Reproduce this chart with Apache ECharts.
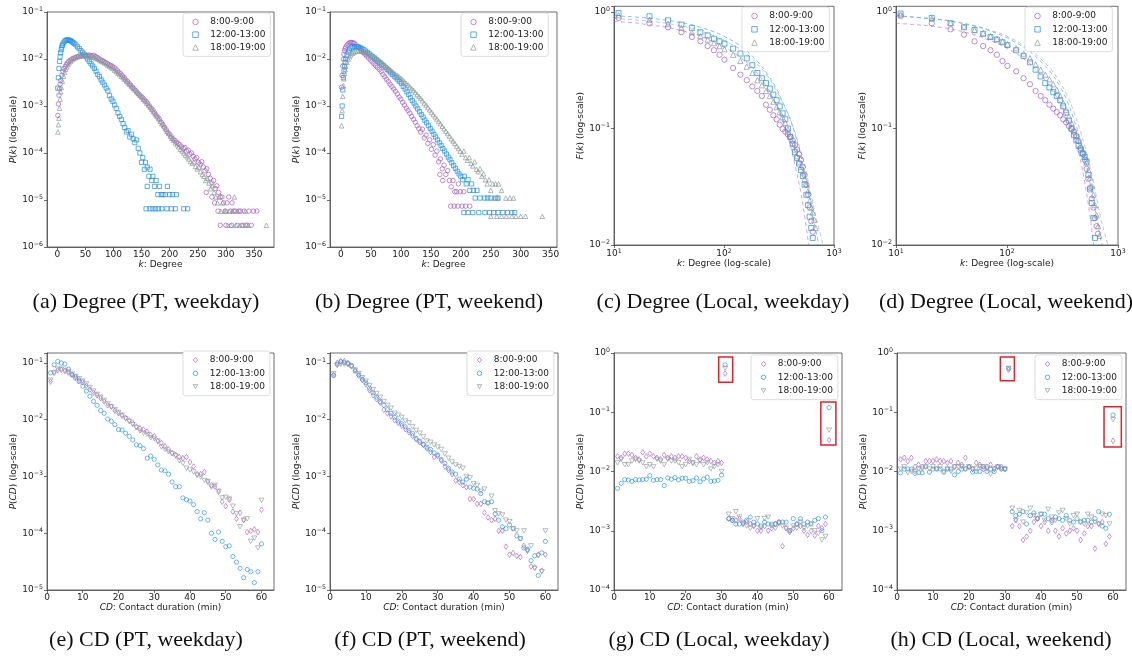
<!DOCTYPE html>
<html><head><meta charset="utf-8">
<script src="https://cdn.jsdelivr.net/npm/echarts@6/dist/echarts.min.js"></script>
<style>html,body{margin:0;padding:0;background:#fff}#c{width:1132px;height:659px}</style>
</head><body><div id="c"></div><script>
// ---------- DATA ----------
const seriesNames = ['8:00-9:00', '12:00-13:00', '18:00-19:00'];
const captions = ['(a) Degree (PT, weekday)', '(b) Degree (PT, weekend)', '(c) Degree (Local, weekday)', '(d) Degree (Local, weekend)',
  '(e) CD (PT, weekday)', '(f) CD (PT, weekend)', '(g) CD (Local, weekday)', '(h) CD (Local, weekend)'];
const degTicks = [0, 50, 100, 150, 200, 250, 300, 350];
const cdTicks = [0, 10, 20, 30, 40, 50, 60];

// (a) Degree, PT, weekday  [k, P(k)]
const aMorning = [[1,6.3e-4],[2,1.1e-3],[3,1.7e-3],[4,2.3e-3],[5,2.9e-3],[6,3.5e-3],[8,4.5e-3],[10,5.4e-3],[12,6.2e-3],[14,6.9e-3],[16,7.6e-3],[18,8.2e-3],[20,8.8e-3],[23,9.4e-3],[26,1.0e-2],[29,1.04e-2],[32,1.08e-2],[35,1.11e-2],[38,1.14e-2],[41,1.16e-2],[44,1.18e-2],[47,1.19e-2],[50,1.2e-2],[53,1.19e-2],[56,1.21e-2],[59,1.19e-2],[62,1.17e-2],[65,1.2e-2],[68,1.13e-2],[71,1.08e-2],[74,1.02e-2],[77,9.6e-3],[80,9.3e-3],[83,8.8e-3],[86,8.4e-3],[89,8.0e-3],[92,7.6e-3],[95,7.3e-3],[98,7.0e-3],[101,6.6e-3],[104,6.1e-3],[107,5.6e-3],[110,5.2e-3],[113,4.8e-3],[116,4.4e-3],[119,4.0e-3],[122,3.6e-3],[125,3.3e-3],[128,3.0e-3],[131,2.75e-3],[134,2.5e-3],[137,2.3e-3],[140,2.1e-3],[143,1.9e-3],[146,1.75e-3],[149,1.6e-3],[152,1.5e-3],[155,1.35e-3],[158,1.25e-3],[161,1.15e-3],[164,1.0e-3],[167,9.0e-4],[170,8.2e-4],[173,7.2e-4],[176,6.4e-4],[179,5.8e-4],[182,5.2e-4],[185,4.5e-4],[188,4.0e-4],[191,3.5e-4],[194,3.1e-4],[197,2.7e-4],[200,2.5e-4],[203,2.2e-4],[206,2.0e-4],[209,1.85e-4],[212,1.7e-4],[215,1.6e-4],[218,1.5e-4],[221,1.35e-4],[224,1.25e-4],[227,1.3e-4],[230,1.1e-4],[233,1.15e-4],[236,9.5e-5],[239,1.0e-4],[242,8.5e-5],[245,7.5e-5],[248,8.0e-5],[251,6.3e-5],[254,5.8e-5],[257,6.5e-5],[260,5.0e-5],[263,4.2e-5],[266,4.6e-5],[269,3.5e-5],[272,2.9e-5],[275,2.3e-5],[278,2.6e-5],[281,1.75e-5],[284,2.0e-5],[287,1.45e-5],[290,1.16e-5],[265,1.45e-5],[275,1.16e-5],[280,8.7e-6],[286,5.8e-6],[290,2.9e-6],[293,1.16e-5],[296,8.7e-6],[299,5.8e-6],[300,2.9e-6],[302,8.7e-6],[305,1.16e-5],[308,5.8e-6],[310,2.9e-6],[311,8.7e-6],[314,5.8e-6],[317,5.8e-6],[320,2.9e-6],[323,5.8e-6],[326,5.8e-6],[329,2.9e-6],[332,5.8e-6],[335,2.9e-6],[338,2.9e-6],[341,5.8e-6],[345,2.9e-6],[349,5.8e-6],[355,5.8e-6]];
const aNoon = [[1,2.4e-3],[2,4.0e-3],[3,6.3e-3],[4,8.9e-3],[5,1.12e-2],[6,1.35e-2],[7,1.58e-2],[8,1.78e-2],[9,1.95e-2],[10,2.09e-2],[12,2.29e-2],[14,2.45e-2],[16,2.5e-2],[18,2.57e-2],[20,2.52e-2],[22,2.5e-2],[24,2.45e-2],[26,2.34e-2],[28,2.24e-2],[30,2.14e-2],[33,2.0e-2],[36,1.82e-2],[39,1.66e-2],[42,1.51e-2],[45,1.38e-2],[48,1.26e-2],[51,1.12e-2],[54,1.0e-2],[57,8.9e-3],[60,7.9e-3],[63,7.1e-3],[66,6.3e-3],[69,5.5e-3],[72,4.7e-3],[75,4.2e-3],[78,3.6e-3],[81,3.2e-3],[84,2.8e-3],[87,2.4e-3],[90,2.1e-3],[93,1.66e-3],[96,1.41e-3],[99,1.26e-3],[102,1.05e-3],[105,8.9e-4],[108,7.1e-4],[111,6.0e-4],[114,5.2e-4],[117,4.2e-4],[120,3.5e-4],[123,2.8e-4],[126,3.0e-4],[129,2.2e-4],[132,2.5e-4],[135,2.0e-4],[138,1.66e-4],[141,1.9e-4],[144,1.26e-4],[147,1.0e-4],[150,6.3e-5],[152,8.0e-5],[155,4.5e-5],[157,6.3e-5],[160,5.0e-5],[163,3.2e-5],[165,4.5e-5],[168,2.6e-5],[170,3.2e-5],[173,1.95e-5],[176,2.6e-5],[179,1.3e-5],[182,1.95e-5],[185,1.3e-5],[188,1.3e-5],[192,1.3e-5],[196,1.95e-5],[200,1.3e-5],[205,1.3e-5],[212,1.3e-5],[160,1.95e-5],[158,6.5e-6],[165,6.5e-6],[170,6.5e-6],[175,6.5e-6],[180,6.5e-6],[186,6.5e-6],[195,6.5e-6],[203,6.5e-6],[210,6.5e-6],[225,6.5e-6],[232,6.5e-6]];
const aEvening = [[1,2.8e-4],[2,4e-4],[3,5.5e-4],[4,9e-4],[5,1.4e-3],[6,2.0e-3],[7,2.5e-3],[9,3.4e-3],[11,4.3e-3],[13,5.2e-3],[15,6.0e-3],[17,6.8e-3],[19,7.6e-3],[21,8.3e-3],[24,9.0e-3],[27,9.7e-3],[30,1.03e-2],[33,1.08e-2],[36,1.12e-2],[39,1.15e-2],[42,1.17e-2],[45,1.18e-2],[48,1.19e-2],[51,1.2e-2],[54,1.18e-2],[57,1.17e-2],[60,1.15e-2],[63,1.12e-2],[66,1.08e-2],[69,1.04e-2],[72,1.0e-2],[75,9.5e-3],[78,9.1e-3],[81,8.7e-3],[84,8.3e-3],[87,7.9e-3],[90,7.4e-3],[93,7.0e-3],[96,6.6e-3],[99,6.3e-3],[102,5.8e-3],[105,5.4e-3],[108,5.0e-3],[111,4.7e-3],[114,4.3e-3],[117,4.0e-3],[120,3.7e-3],[123,3.4e-3],[126,3.1e-3],[129,2.85e-3],[132,2.6e-3],[135,2.4e-3],[138,2.2e-3],[141,2.0e-3],[144,1.85e-3],[147,1.7e-3],[150,1.55e-3],[153,1.4e-3],[156,1.28e-3],[159,1.15e-3],[162,1.05e-3],[165,9.5e-4],[168,8.5e-4],[171,7.6e-4],[174,6.8e-4],[177,6.1e-4],[180,5.4e-4],[183,4.8e-4],[186,4.2e-4],[189,3.8e-4],[192,3.3e-4],[195,2.9e-4],[198,2.6e-4],[201,2.3e-4],[204,2.05e-4],[207,1.85e-4],[210,1.65e-4],[213,1.5e-4],[216,1.35e-4],[219,1.2e-4],[222,1.1e-4],[225,1.0e-4],[228,9.0e-5],[231,8.3e-5],[234,7.5e-5],[237,6.6e-5],[240,6.0e-5],[243,6.5e-5],[246,5.2e-5],[249,4.6e-5],[252,5.0e-5],[255,4.0e-5],[258,3.5e-5],[261,3.2e-5],[264,2.6e-5],[267,2.9e-5],[270,2.3e-5],[273,1.75e-5],[276,2.0e-5],[279,1.45e-5],[282,1.16e-5],[285,8.7e-6],[288,1.16e-5],[291,5.8e-6],[294,8.7e-6],[297,5.8e-6],[300,5.8e-6],[303,2.9e-6],[306,5.8e-6],[309,2.9e-6],[312,5.8e-6],[315,1.16e-5],[318,2.9e-6],[321,5.8e-6],[325,2.9e-6],[330,2.9e-6],[335,5.8e-6],[340,2.9e-6],[372,2.9e-6]];

// (b) Degree, PT, weekend
const bMorning = [[1,2.5e-3],[2,4.5e-3],[3,7.1e-3],[4,1.0e-2],[5,1.26e-2],[6,1.51e-2],[7,1.66e-2],[8,1.78e-2],[10,1.95e-2],[12,2.1e-2],[14,2.2e-2],[16,2.25e-2],[18,2.25e-2],[20,2.2e-2],[22,2.16e-2],[25,2.0e-2],[28,1.82e-2],[31,1.66e-2],[34,1.51e-2],[37,1.38e-2],[40,1.26e-2],[43,1.15e-2],[46,1.05e-2],[49,9.5e-3],[52,8.7e-3],[55,7.9e-3],[58,7.2e-3],[61,6.6e-3],[64,6.0e-3],[67,5.4e-3],[70,4.7e-3],[73,4.2e-3],[76,3.7e-3],[79,3.3e-3],[82,2.9e-3],[85,2.6e-3],[88,2.3e-3],[91,2.05e-3],[94,1.8e-3],[97,1.55e-3],[100,1.4e-3],[103,1.2e-3],[106,1.05e-3],[109,9.0e-4],[112,8.0e-4],[115,7.0e-4],[118,6.0e-4],[121,5.2e-4],[124,4.5e-4],[127,3.8e-4],[130,3.3e-4],[133,2.8e-4],[136,3.2e-4],[139,2.1e-4],[142,2.4e-4],[145,1.6e-4],[148,1.9e-4],[151,1.2e-4],[154,1.5e-4],[157,9.0e-5],[160,1.1e-4],[163,6.5e-5],[166,7.5e-5],[169,4.6e-5],[172,5.5e-5],[175,3.5e-5],[178,4.2e-5],[181,2.6e-5],[184,1.9e-5],[187,2.6e-5],[190,1.5e-5],[193,1.5e-5],[196,2.2e-5],[199,1.5e-5],[183,7.4e-6],[189,7.4e-6],[195,7.4e-6],[202,7.4e-6],[208,7.4e-6],[215,7.4e-6],[205,1.5e-5],[170,2.6e-5],[165,3.5e-5]];
const bNoon = [[1,6e-4],[2,1.0e-3],[3,2.2e-3],[4,4.0e-3],[5,5.5e-3],[6,7.1e-3],[7,8.5e-3],[8,1.0e-2],[10,1.2e-2],[12,1.4e-2],[14,1.55e-2],[17,1.7e-2],[20,1.78e-2],[23,1.82e-2],[26,1.82e-2],[29,1.8e-2],[32,1.74e-2],[35,1.66e-2],[38,1.58e-2],[41,1.48e-2],[44,1.38e-2],[47,1.29e-2],[50,1.2e-2],[53,1.12e-2],[56,1.05e-2],[59,9.7e-3],[62,9.0e-3],[65,8.4e-3],[68,7.8e-3],[71,7.2e-3],[74,6.6e-3],[77,6.0e-3],[80,5.6e-3],[83,5.1e-3],[86,4.7e-3],[89,4.3e-3],[92,4.0e-3],[95,3.6e-3],[98,3.3e-3],[101,3.0e-3],[104,2.6e-3],[107,2.3e-3],[110,2.0e-3],[113,1.75e-3],[116,1.5e-3],[119,1.3e-3],[122,1.15e-3],[125,1.0e-3],[128,8.7e-4],[131,7.6e-4],[134,6.6e-4],[137,5.8e-4],[140,5.0e-4],[143,4.4e-4],[146,3.8e-4],[149,3.3e-4],[152,2.9e-4],[155,2.5e-4],[158,2.2e-4],[161,1.9e-4],[164,1.65e-4],[167,1.45e-4],[170,1.25e-4],[173,1.1e-4],[176,9.5e-5],[179,8.2e-5],[182,7.2e-5],[185,6.2e-5],[188,5.4e-5],[191,4.7e-5],[194,4.1e-5],[197,3.6e-5],[200,3.2e-5],[203,2.7e-5],[206,3.2e-5],[209,2.2e-5],[212,2.7e-5],[215,1.6e-5],[218,2.2e-5],[221,1.6e-5],[224,1.1e-5],[227,1.6e-5],[232,1.1e-5],[240,1.1e-5],[245,1.1e-5],[250,1.1e-5],[258,1.1e-5],[262,1.1e-5],[205,5.4e-6],[212,5.4e-6],[220,5.4e-6],[230,5.4e-6],[240,5.4e-6],[248,5.4e-6],[255,5.4e-6],[262,5.4e-6],[270,5.4e-6],[278,5.4e-6],[285,5.4e-6],[290,5.4e-6]];
const bEvening = [[1,3.8e-4],[2,8e-4],[3,1.6e-3],[4,2.7e-3],[5,3.8e-3],[6,5.0e-3],[7,6.0e-3],[8,7.0e-3],[10,8.5e-3],[12,1.0e-2],[14,1.12e-2],[16,1.22e-2],[19,1.32e-2],[22,1.4e-2],[25,1.45e-2],[28,1.48e-2],[31,1.5e-2],[34,1.48e-2],[37,1.45e-2],[40,1.4e-2],[43,1.33e-2],[46,1.27e-2],[49,1.2e-2],[52,1.14e-2],[55,1.08e-2],[58,1.02e-2],[61,9.6e-3],[64,9.0e-3],[67,8.4e-3],[70,7.8e-3],[73,7.3e-3],[76,6.8e-3],[79,6.3e-3],[82,5.9e-3],[85,5.5e-3],[88,5.1e-3],[91,4.8e-3],[94,4.5e-3],[97,4.2e-3],[100,3.9e-3],[103,3.6e-3],[106,3.3e-3],[109,3.05e-3],[112,2.8e-3],[115,2.55e-3],[118,2.35e-3],[121,2.15e-3],[124,1.95e-3],[127,1.75e-3],[130,1.6e-3],[133,1.45e-3],[136,1.3e-3],[139,1.15e-3],[142,1.05e-3],[145,9.3e-4],[148,8.3e-4],[151,7.4e-4],[154,6.6e-4],[157,5.9e-4],[160,5.3e-4],[163,4.7e-4],[166,4.2e-4],[169,3.7e-4],[172,3.3e-4],[175,2.9e-4],[178,2.6e-4],[181,2.3e-4],[184,2.0e-4],[187,1.8e-4],[190,1.6e-4],[193,1.4e-4],[196,1.25e-4],[199,1.1e-4],[202,9.5e-5],[205,1.1e-4],[208,8.0e-5],[211,7.0e-5],[214,8.0e-5],[217,6.0e-5],[220,5.3e-5],[223,6.5e-5],[226,4.5e-5],[229,4.0e-5],[232,4.6e-5],[235,3.2e-5],[238,3.6e-5],[241,2.7e-5],[244,2.2e-5],[247,2.7e-5],[250,1.6e-5],[253,2.2e-5],[258,2.2e-5],[263,2.2e-5],[255,1.1e-5],[262,1.1e-5],[268,1.6e-5],[275,1.1e-5],[282,1.1e-5],[288,1.1e-5],[250,4.5e-6],[260,4.5e-6],[268,4.5e-6],[276,4.5e-6],[285,4.5e-6],[292,4.5e-6],[300,4.5e-6],[308,4.5e-6],[336,4.5e-6]];

// (c),(d) Degree, Local: F(k) at k values
const kLocal = [11,21,31,41,51,61,71,81,91,101,121,141,161,181,201,221,241,261,281,301,321,341,361,381,401,421,441,461,481,501,521,541,561,581,601,621,641,661,681];
const cMorning = [0.89,0.80,0.74,0.67,0.61,0.56,0.51,0.47,0.43,0.39,0.33,0.29,0.26,0.23,0.21,0.19,0.16,0.145,0.13,0.12,0.108,0.099,0.094,0.089,0.085,0.079,0.072,0.066,0.060,0.054,0.047,0.040,0.033,0.027,0.021,0.016,0.013];
const cNoon = [0.98,0.92,0.85,0.78,0.73,0.67,0.63,0.59,0.56,0.535,0.485,0.44,0.40,0.35,0.30,0.27,0.245,0.22,0.195,0.175,0.155,0.135,0.12,0.10,0.085,0.074,0.063,0.056,0.050,0.044,0.039,0.033,0.027,0.022,0.0175,0.014,0.0115];
const cEvening = [0.94,0.86,0.79,0.73,0.67,0.62,0.58,0.54,0.51,0.48,0.43,0.38,0.34,0.30,0.26,0.235,0.21,0.19,0.17,0.153,0.138,0.125,0.112,0.098,0.085,0.075,0.066,0.058,0.052,0.047,0.042,0.037,0.033,0.029,0.024,0.021,0.019,0.0165,0.014];
const dMorning = [0.93,0.80,0.71,0.64,0.56,0.51,0.47,0.43,0.38,0.345,0.31,0.27,0.24,0.21,0.19,0.175,0.16,0.148,0.138,0.13,0.12,0.113,0.105,0.099,0.094,0.086,0.078,0.068,0.061,0.054,0.045,0.037,0.031,0.025,0.021,0.017,0.0145,0.0125];
const dNoon = [0.97,0.89,0.80,0.74,0.70,0.65,0.61,0.58,0.55,0.52,0.47,0.42,0.37,0.32,0.28,0.245,0.225,0.205,0.19,0.175,0.155,0.137,0.117,0.10,0.088,0.079,0.071,0.066,0.061,0.057,0.052,0.040,0.030,0.023,0.017,0.0115];
const dEvening = [0.94,0.88,0.81,0.75,0.70,0.66,0.62,0.59,0.56,0.53,0.49,0.44,0.40,0.355,0.32,0.29,0.265,0.24,0.215,0.19,0.165,0.145,0.128,0.112,0.098,0.088,0.079,0.072,0.065,0.058,0.051,0.044,0.038,0.032,0.027,0.022,0.018,0.0145,0.012];
// fitted curves (dashed), read as [k, F]
const cFitMorning = [[10,0.83],[15,0.81],[20,0.78],[30,0.74],[50,0.66],[70,0.59],[100,0.50],[150,0.39],[200,0.30],[250,0.22],[300,0.16],[350,0.11],[400,0.072],[450,0.045],[500,0.028],[550,0.016],[590,0.0098]];
const cFitNoon = [[10,0.93],[20,0.89],[30,0.85],[50,0.78],[70,0.71],[100,0.62],[150,0.49],[200,0.38],[250,0.29],[300,0.22],[350,0.16],[400,0.12],[450,0.085],[500,0.058],[550,0.039],[600,0.026],[650,0.017],[700,0.012],[740,0.0095]];
const cFitEvening = [[10,0.88],[20,0.84],[30,0.80],[50,0.73],[70,0.66],[100,0.57],[150,0.46],[200,0.36],[250,0.28],[300,0.21],[350,0.16],[400,0.12],[450,0.088],[500,0.063],[550,0.045],[600,0.031],[650,0.022],[700,0.016],[750,0.0125],[800,0.0098]];
const dFitMorning = [[10,0.80],[15,0.78],[20,0.76],[30,0.72],[50,0.64],[70,0.57],[100,0.49],[150,0.38],[200,0.29],[250,0.22],[300,0.165],[350,0.12],[400,0.085],[450,0.058],[500,0.035],[550,0.02],[600,0.0105],[610,0.0095]];
const dFitNoon = [[10,0.93],[20,0.88],[30,0.84],[50,0.76],[70,0.69],[100,0.60],[150,0.48],[200,0.38],[250,0.30],[300,0.23],[350,0.17],[400,0.12],[450,0.085],[500,0.057],[550,0.037],[600,0.024],[650,0.016],[700,0.011],[740,0.0092]];
const dFitEvening = [[10,0.93],[20,0.88],[30,0.84],[50,0.77],[70,0.70],[100,0.62],[150,0.50],[200,0.40],[250,0.32],[300,0.25],[350,0.19],[400,0.14],[450,0.10],[500,0.072],[550,0.05],[600,0.035],[650,0.024],[700,0.017],[750,0.013],[800,0.0105],[850,0.0088]];

// (e)-(h) Contact duration: P(CD) for CD = 1..60 min
const eMorning = [0.047,0.067,0.074,0.076,0.072,0.068,0.062,0.057,0.050,0.046,0.040,0.034,0.030,0.027,0.024,0.021,0.018,0.017,0.0144,0.013,0.0118,0.0107,0.0097,0.0087,0.0076,0.0070,0.0067,0.0062,0.0054,0.0051,0.0042,0.0039,0.0034,0.0030,0.0026,0.0024,0.0022,0.0021,0.0022,0.0018,0.0015,0.0011,0.0011,0.0012,0.0008,0.0007,0.00066,0.00054,0.00036,0.0003,0.00039,0.00024,0.00018,0.00023,0.00017,0.000105,0.00011,0.000117,0.000105,0.00026];
const eNoon = [0.067,0.093,0.107,0.100,0.096,0.078,0.062,0.054,0.047,0.039,0.032,0.026,0.021,0.018,0.0146,0.013,0.0103,0.0094,0.0082,0.0067,0.0066,0.0058,0.0051,0.0044,0.0036,0.0035,0.0031,0.0021,0.0023,0.0020,0.0016,0.0013,0.00126,0.0011,0.00080,0.00066,0.00066,0.00042,0.00039,0.00037,0.00032,0.00024,0.00018,0.00023,0.00017,0.000100,0.000078,0.000105,0.000072,0.000058,0.000060,0.000039,0.000031,0.000024,0.0000165,0.000023,0.000021,0.0000135,0.000021,0.000065];
const eEvening = [0.050,0.068,0.078,0.078,0.074,0.070,0.064,0.058,0.053,0.048,0.043,0.037,0.032,0.028,0.025,0.022,0.019,0.017,0.0150,0.0135,0.0120,0.0105,0.0093,0.0082,0.0072,0.0063,0.0058,0.0055,0.0048,0.0046,0.0042,0.0033,0.0030,0.0027,0.0025,0.0023,0.0019,0.0017,0.0014,0.0013,0.0012,0.00105,0.00098,0.00085,0.00082,0.00065,0.00070,0.00055,0.00042,0.00043,0.00040,0.00030,0.00022,0.00013,0.00017,0.00018,0.000072,0.000082,0.000055,0.00038];
const fMorning = [0.062,0.100,0.108,0.108,0.100,0.090,0.075,0.060,0.050,0.042,0.033,0.027,0.023,0.020,0.015,0.013,0.0115,0.0098,0.0088,0.0078,0.0068,0.0060,0.0052,0.0045,0.0040,0.0036,0.0031,0.0027,0.0022,0.0023,0.0019,0.0015,0.0013,0.0011,0.00085,0.00080,0.00070,0.00065,0.00040,0.00040,0.00033,0.00033,0.00023,0.00019,0.00017,0.00018,0.00011,0.00011,0.000058,0.000042,0.000045,0.000040,0.000038,0.000060,0.000050,0.000026,0.000025,0.000042,0.000022,0.000042];
const fNoon = [0.060,0.095,0.105,0.102,0.098,0.088,0.072,0.062,0.052,0.045,0.036,0.030,0.025,0.021,0.018,0.015,0.013,0.011,0.0095,0.0085,0.0075,0.0065,0.0057,0.0047,0.0042,0.0037,0.0033,0.0030,0.0026,0.0024,0.0020,0.0017,0.0014,0.0012,0.0011,0.0009,0.0008,0.0009,0.00065,0.00062,0.00060,0.00050,0.00036,0.00034,0.00036,0.00022,0.00017,0.00013,0.00012,0.00014,0.00012,0.00009,0.00008,0.000055,0.000052,0.000033,0.000040,0.000018,0.000045,0.000072];
const fEvening = [0.065,0.090,0.095,0.095,0.092,0.087,0.075,0.065,0.055,0.048,0.040,0.034,0.029,0.025,0.021,0.018,0.016,0.013,0.012,0.011,0.0095,0.0088,0.0075,0.0065,0.0058,0.0050,0.0042,0.0040,0.0036,0.0033,0.0030,0.0025,0.0021,0.0018,0.0016,0.0015,0.0014,0.0010,0.00095,0.00075,0.00070,0.00055,0.00060,0.00034,0.00045,0.00025,0.00022,0.00021,0.00017,0.00016,0.00012,0.00011,0.00008,0.00011,0.000048,0.000060,0.000024,0.000040,0.000021,0.00011];
const gMorning = [0.018,0.017,0.020,0.020,0.019,0.017,0.016,0.021,0.018,0.020,0.018,0.017,0.016,0.019,0.017,0.018,0.017,0.018,0.018,0.017,0.015,0.014,0.018,0.016,0.017,0.016,0.015,0.014,0.015,0.014,0.45,0.0016,0.0015,0.0015,0.0016,0.0013,0.0014,0.0013,0.0012,0.0010,0.0010,0.0012,0.0010,0.0011,0.0013,0.0014,0.00055,0.0011,0.00095,0.0011,0.0013,0.0012,0.0010,0.00085,0.0010,0.00083,0.0012,0.0011,0.0013,0.034];
const gNoon = [0.0052,0.0063,0.0073,0.0072,0.0068,0.0073,0.0072,0.0073,0.0074,0.0085,0.0071,0.0073,0.0073,0.0058,0.0078,0.0074,0.0079,0.0072,0.0077,0.0077,0.0068,0.0070,0.0078,0.0067,0.0075,0.0080,0.0068,0.0069,0.0071,0.0087,0.63,0.0016,0.0015,0.0013,0.0013,0.0014,0.0015,0.0017,0.0014,0.0013,0.0012,0.0014,0.0013,0.0013,0.0013,0.0014,0.0014,0.0014,0.0010,0.0016,0.0013,0.0016,0.0013,0.0014,0.0013,0.0015,0.0016,0.0010,0.0017,0.12];
const gEvening = [0.014,0.016,0.013,0.013,0.015,0.016,0.015,0.014,0.012,0.013,0.012,0.016,0.015,0.013,0.016,0.015,0.015,0.014,0.012,0.013,0.016,0.014,0.013,0.015,0.013,0.014,0.011,0.012,0.013,0.010,0.55,0.0019,0.0016,0.0021,0.0017,0.0013,0.0012,0.0011,0.0012,0.0016,0.0011,0.0016,0.0017,0.0012,0.0011,0.0013,0.0012,0.0011,0.0010,0.0012,0.0011,0.0014,0.0011,0.0012,0.0013,0.0010,0.0009,0.0007,0.0008,0.050];
const hMorning = [0.016,0.017,0.015,0.017,0.012,0.013,0.012,0.015,0.015,0.015,0.016,0.015,0.015,0.014,0.015,0.012,0.014,0.013,0.017,0.012,0.011,0.014,0.013,0.011,0.012,0.013,0.011,0.012,0.012,0.011,0.52,0.0012,0.0015,0.0012,0.0007,0.0008,0.0010,0.0014,0.0016,0.0012,0.0014,0.0010,0.0014,0.0010,0.0008,0.0011,0.0009,0.0010,0.0011,0.0010,0.0007,0.0009,0.0012,0.0012,0.0005,0.0013,0.0014,0.0006,0.0008,0.033];
const hNoon = [0.0095,0.011,0.011,0.011,0.0093,0.0096,0.0095,0.012,0.0098,0.011,0.011,0.011,0.0097,0.011,0.011,0.0088,0.010,0.011,0.011,0.012,0.0098,0.010,0.010,0.012,0.010,0.011,0.010,0.012,0.011,0.011,0.55,0.0021,0.0018,0.0019,0.0021,0.0013,0.0018,0.0020,0.0016,0.0019,0.0019,0.0016,0.0015,0.0017,0.0016,0.0015,0.0018,0.0015,0.0014,0.0016,0.0014,0.0015,0.0015,0.0014,0.0016,0.0021,0.0012,0.0011,0.0019,0.090];
const hEvening = [0.011,0.012,0.0095,0.010,0.010,0.011,0.011,0.012,0.011,0.012,0.011,0.012,0.010,0.011,0.010,0.012,0.012,0.012,0.011,0.012,0.011,0.011,0.012,0.012,0.011,0.009,0.011,0.012,0.011,0.011,0.55,0.0024,0.0015,0.0022,0.0014,0.0020,0.0024,0.0018,0.0016,0.0019,0.0015,0.0023,0.0017,0.0015,0.0020,0.0022,0.0016,0.0013,0.0018,0.0019,0.0014,0.0013,0.0019,0.0017,0.0014,0.0013,0.0019,0.0018,0.0013,0.075];
// highlighted regions [xFrom, xTo, yFrom, yTo] in data units
const gBoxes = [[29.2, 33.1, 0.32, 0.855], [57.7, 61.9, 0.028, 0.149]];
const hBoxes = [[28.7, 32.6, 0.34, 0.855], [57.5, 62.3, 0.026, 0.124]];

// ---------- STYLE / LAYOUT ----------
const FONT = 'DejaVu Sans';
const FS = 9;
const AX = '#4a4a4a';
const COL = ['#a65fc4', '#1f8fe3', '#8e9999'];
const DOWNTRI = 'path://M0,0L10,0L5,8.66Z';
const grids = [
  {left:47, top:12, width:227, height:235},
  {left:330, top:12, width:227, height:235},
  {left:614, top:6.3, width:220, height:238.7},
  {left:896, top:6.3, width:222, height:238.7},
  {left:47, top:353, width:227, height:237},
  {left:330, top:353, width:228, height:237},
  {left:614, top:353, width:228, height:237},
  {left:897, top:353, width:229, height:237}
];
const capX = [141, 424, 718, 1001, 141, 425, 714, 996];
const legendPos = [[183,13],[461,13],[742,7],[1025,7],[183,351],[467,351],[751,355],[1035,355]];

const SUP = {s:{fontSize:6.3, fontFamily:FONT, color:'#222', padding:[0,0,6,0]}};
function logFmt(v){
  const l = Math.log10(v), e = Math.round(l);
  if (Math.abs(l - e) > 1e-3) return '';
  return '10{s|' + (e < 0 ? '\u2212' + (-e) : e) + '}';
}
const nameStyle = {fontSize:FS, color:'#222', fontFamily:FONT, rich:{i:{fontStyle:'italic', fontSize:FS, color:'#222', fontFamily:FONT}}};

function axisBase(i, type, min, max, name, gap){
  return {gridIndex:i, type, min, max, name, nameLocation:'middle', nameGap:gap, nameTextStyle:nameStyle,
    axisLine:{show:true, onZero:false, lineStyle:{color:AX, width:0.8}},
    axisTick:{show:true, inside:false, length:3, lineStyle:{color:AX, width:0.8}},
    axisLabel:{fontSize:FS, color:'#222', fontFamily:FONT, margin:3},
    splitLine:{show:false}, minorTick:{show:false}};
}
function linX(i, min, max, ticks, name, gap){
  const a = axisBase(i, 'value', min, max, name, gap);
  a.axisTick.customValues = ticks; a.axisLabel.customValues = ticks;
  a.axisLabel.formatter = v => (ticks.indexOf(Math.round(v*1000)/1000) >= 0 ? String(v) : '');
  return a;
}
function logAx(i, min, max, name, gap, isY){
  const a = axisBase(i, 'log', min, max, name, gap);
  a.logBase = 10;
  a.axisLabel.formatter = logFmt; a.axisLabel.rich = SUP;
  if (isY) a.axisLabel.margin = 4;
  return a;
}

const xName1 = '{i|k}: Degree', xNameLog = '{i|k}: Degree (log-scale)', xName2 = '{i|CD}: Contact duration (min)';
const yNameP = '{i|P}({i|k}) (log-scale)', yNameF = '{i|F}({i|k}) (log-scale)', yNameCD = '{i|P}({i|CD}) (log-scale)';

const xAxes = [
  linX(0, -18.3, 385.6, degTicks, xName1, 12),
  linX(1, -18.3, 360.5, degTicks, xName1, 12),
  logAx(2, 10, 1000, xNameLog, 13, false),
  logAx(3, 10, 1000, xNameLog, 13, false),
  linX(4, 0, 63.5, cdTicks, xName2, 11),
  linX(5, 0, 63.5, cdTicks, xName2, 11),
  linX(6, 0, 63.6, cdTicks, xName2, 11),
  linX(7, 0, 63.6, cdTicks, xName2, 11)
];
const yAxes = [
  logAx(0, 1e-6, 1e-1, yNameP, 29, true),
  logAx(1, 1e-6, 1e-1, yNameP, 29, true),
  logAx(2, 0.01, 1.12, yNameF, 28, true),
  logAx(3, 0.01, 1.12, yNameF, 28, true),
  logAx(4, 1e-5, 0.15, yNameCD, 27, true),
  logAx(5, 1e-5, 0.15, yNameCD, 27, true),
  logAx(6, 1e-4, 1, yNameCD, 27, true),
  logAx(7, 1e-4, 1, yNameCD, 27, true)
];

function hollow(c, w){ return {color:'rgba(255,255,255,0)', borderColor:c, borderWidth:w || 0.9}; }
function sc(i, s, data, symbol, size){
  return {type:'scatter', name:seriesNames[s], xAxisIndex:i, yAxisIndex:i, data, symbol, symbolSize:size,
    itemStyle:hollow(COL[s]), emphasis:{disabled:true}, silent:true, animation:false, clip:true};
}
function fit(i, s, data){
  return {type:'line', name:'fit ' + seriesNames[s], xAxisIndex:i, yAxisIndex:i, data, smooth:0.4, showSymbol:false, symbol:'none',
    lineStyle:{color:COL[s], width:1, type:[4,3], opacity:0.55}, silent:true, animation:false, z:1};
}
const pairK = vals => vals.map((v, j) => [kLocal[j], v]);
const pairCD = vals => vals.map((v, j) => [j + 1, v]);
function boxes(list){
  return {silent:true, itemStyle:{color:'rgba(0,0,0,0)', borderColor:'#e3202b', borderWidth:1.5},
    data: list.map(b => [{coord:[b[0], b[3]]}, {coord:[b[1], b[2]]}])};
}

const rowSyms1 = [['circle',4.5], ['rect',4.2], ['triangle',4.5]];
const rowSyms2 = [['diamond',[3.8,5.6]], ['circle',4.2], [DOWNTRI,[5,4.4]]];
const series = [];
const degSets = [[aMorning,aNoon,aEvening],[bMorning,bNoon,bEvening]];
degSets.forEach((set, i) => set.forEach((d, s) => series.push(sc(i, s, d, rowSyms1[s][0], rowSyms1[s][1]))));
const locSets = [[cMorning,cNoon,cEvening],[dMorning,dNoon,dEvening]];
const fitSets = [[cFitMorning,cFitNoon,cFitEvening],[dFitMorning,dFitNoon,dFitEvening]];
locSets.forEach((set, j) => {
  fitSets[j].forEach((f, s) => series.push(fit(2 + j, s, f)));
  set.forEach((d, s) => series.push(sc(2 + j, s, pairK(d), rowSyms1[s][0], rowSyms1[s][1] + 0.8)));
});
const cdSets = [[eMorning,eNoon,eEvening],[fMorning,fNoon,fEvening],[gMorning,gNoon,gEvening],[hMorning,hNoon,hEvening]];
cdSets.forEach((set, j) => set.forEach((d, s) => {
  const ser = sc(4 + j, s, pairCD(d), rowSyms2[s][0], rowSyms2[s][1]);
  ser.itemStyle.borderWidth = 0.8;
  if (j === 2 && s === 0) ser.markArea = boxes(gBoxes);
  if (j === 3 && s === 0) ser.markArea = boxes(hBoxes);
  series.push(ser);
}));

function legendData(row){
  const syms = row === 1 ? ['circle','rect','triangle'] : ['diamond','circle',DOWNTRI];
  return seriesNames.map((n, s) => ({name:n, icon:syms[s], itemStyle:hollow(COL[s], 0.9)}));
}
const legends = legendPos.map((p, i) => ({
  left:p[0], top:p[1], orient:'vertical', selectedMode:false,
  itemWidth: i < 4 ? 5.5 : 4.5, itemHeight: i < 4 ? 5.5 : 5, itemGap: i === 0 || i === 1 ? 2.7 : 3.3,
  padding:[4, 5, 4, i < 4 ? 9.3 : 9.8], borderColor:'#d4d4d4', borderWidth:0.8, borderRadius:2.5, backgroundColor:'#fff',
  textStyle:{fontSize:FS, fontFamily:FONT, color:'#222', lineHeight:10, padding:[0,0,0,7]},
  data: legendData(i < 4 ? 1 : 2)
}));

const titles = captions.map((t, i) => ({text:t, left:capX[i], top: i < 4 ? 286 : 624, textAlign:'center',
  textStyle:{fontFamily:'Liberation Serif', fontSize:22, fontWeight:'normal', color:'#111'}}));

const chart = echarts.init(document.getElementById('c'), null, {renderer:'canvas'});
chart.setOption({
  backgroundColor:'#fff', animation:false,
  title: titles,
  grid: grids.map(g => Object.assign({show:true, borderColor:AX, borderWidth:0.8, backgroundColor:'rgba(0,0,0,0)'}, g)),
  legend: legends,
  xAxis: xAxes, yAxis: yAxes, series
});
</script></body></html>
